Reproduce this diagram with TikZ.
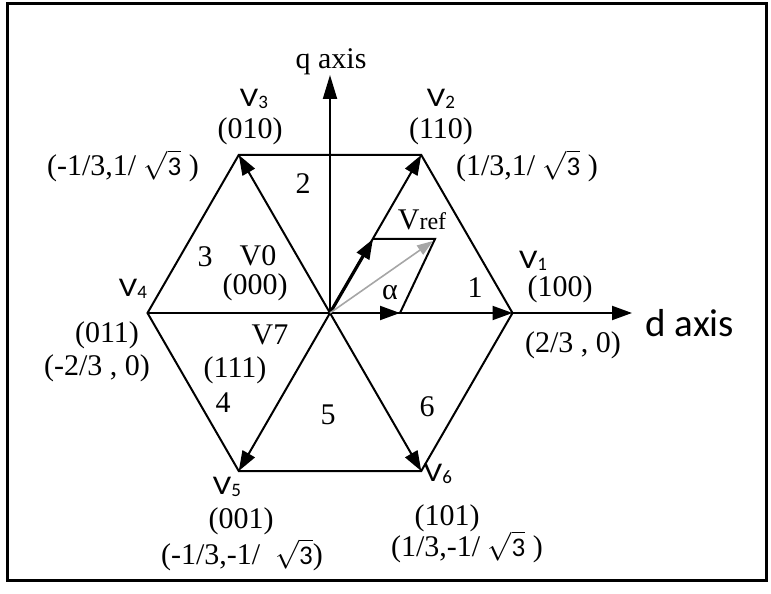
\documentclass[tikz,border=0pt]{standalone}
\usepackage{fontspec}
\setmainfont{Liberation Serif}
\newfontfamily\sansfont{Carlito}
\usetikzlibrary{arrows.meta}
\tikzset{
  txt/.style={font=\fontsize{15}{17}\selectfont, inner sep=0pt},
  vtxt/.style={font=\sansfont\fontsize{13.5}{15}\selectfont, inner sep=0pt},
  hexline/.style={draw=black, line width=1pt},
  vecline/.style={draw=black, line width=1pt, -{Triangle[length=10pt, width=7pt]}},
  thickvec/.style={vecline, line width=1.6pt},
  refline/.style={draw=black!35, line width=0.8pt, -{Triangle[length=8pt, width=5.5pt]}}
}
\newcommand{\vname}[1]{\scalebox{1.2}[1]{V}\raisebox{-0.2ex}{\fontsize{9.5}{10}\selectfont #1}}
\newcommand{\rootthree}{{\fontsize{13.5}{14}\selectfont$\sqrt{\mbox{\sansfont 3}}$}}

\begin{document}
\begin{tikzpicture}[x=0.5pt, y=0.5pt]
  \useasboundingbox (0,0) rectangle (771,594);
  \draw[line width=1.5pt] (7,13) rectangle (766,590);

  % Centre and the six active vectors
  \coordinate (O) at (330,281);
  \foreach \k in {1,...,6}
    \path (O) ++({60*(\k-1)}:182.5) coordinate (V\k);

  % Axes
  \coordinate (qtip) at (330,519);
  \coordinate (dtip) at (632,281);
  \draw[vecline, -{Triangle[length=12pt, width=7pt]}] (O) -- (qtip);
  \draw[vecline] (V1) -- (dtip);
  \node[txt] (qlabel) at (331,532) {q axis};
  \node[vtxt, font=\sansfont\fontsize{19.5}{21}\selectfont, anchor=west] (dlabel) at (645,271) {d axis};

  % Hexagon and spokes
  \draw[hexline] (V1) -- (V2) -- (V3) -- (V4) -- (V5) -- (V6) -- cycle;
  \draw[hexline] (V4) -- (O);
  \foreach \k in {1,2,3,5,6}
    \draw[vecline] (O) -- (V\k);

  % Reference vector construction
  \coordinate (va) at (373,355);
  \coordinate (vb) at (400,281);
  \coordinate (vr) at (435,355);
  \draw[thickvec] (O) -- (va);
  \draw[vecline] (O) -- (vb);
  \draw[hexline] (va) -- (vr) -- (vb);
  \draw[refline] (O) -- (433,353);
  \node[txt] (vref) at (422,374) {V{\fontsize{12}{13}\selectfont ref}};
  \node[txt] (alpha) at (390,301) {α};

  % Vertex labels
  \node[vtxt] (lblV1) at (533,333) {\vname{1}};
  \node[txt] (code1) at (560,305) {(100)};
  \node[txt] (coord1) at (573,249) {(2/3 , 0)};

  \node[vtxt] (lblV2) at (441,495) {\vname{2}};
  \node[txt] (code2) at (441,463) {(110)};
  \node[txt] (coord2) at (527,428) {(1/3,1/ \rootthree\ )};

  \node[vtxt] (lblV3) at (254,495) {\vname{3}};
  \node[txt] (code3) at (250,463) {(010)};
  \node[txt] (coord3) at (123,428) {(-1/3,1/ \rootthree\ )};

  \node[vtxt] (lblV4) at (133,305) {\vname{4}};
  \node[txt] (code4) at (107,259) {(011)};
  \node[txt] (coord4) at (97,226) {(-2/3 , 0)};

  \node[vtxt] (lblV5) at (227,107) {\vname{5}};
  \node[txt] (code5) at (241,73) {(001)};
  \node[txt] (coord5) at (242,39) {(-1/3,-1/ \ \rootthree)};

  \node[vtxt] (lblV6) at (438,120) {\vname{6}};
  \node[txt] (code6) at (447,76) {(101)};
  \node[txt] (coord6) at (467,47) {(1/3,-1/ \rootthree\ )};

  % Zero vectors
  \node[txt] (lblV0) at (258,338) {V0};
  \node[txt] (code0) at (255,307) {(000)};
  \node[txt] (lblV7) at (270,259) {V7};
  \node[txt] (code7) at (235,224) {(111)};

  % Sector numbers
  \node[txt] (sec1) at (475,306) {1};
  \node[txt] (sec2) at (303,410) {2};
  \node[txt] (sec3) at (205,337) {3};
  \node[txt] (sec4) at (223,191) {4};
  \node[txt] (sec5) at (328,179) {5};
  \node[txt] (sec6) at (427,187) {6};
\end{tikzpicture}
\end{document}
